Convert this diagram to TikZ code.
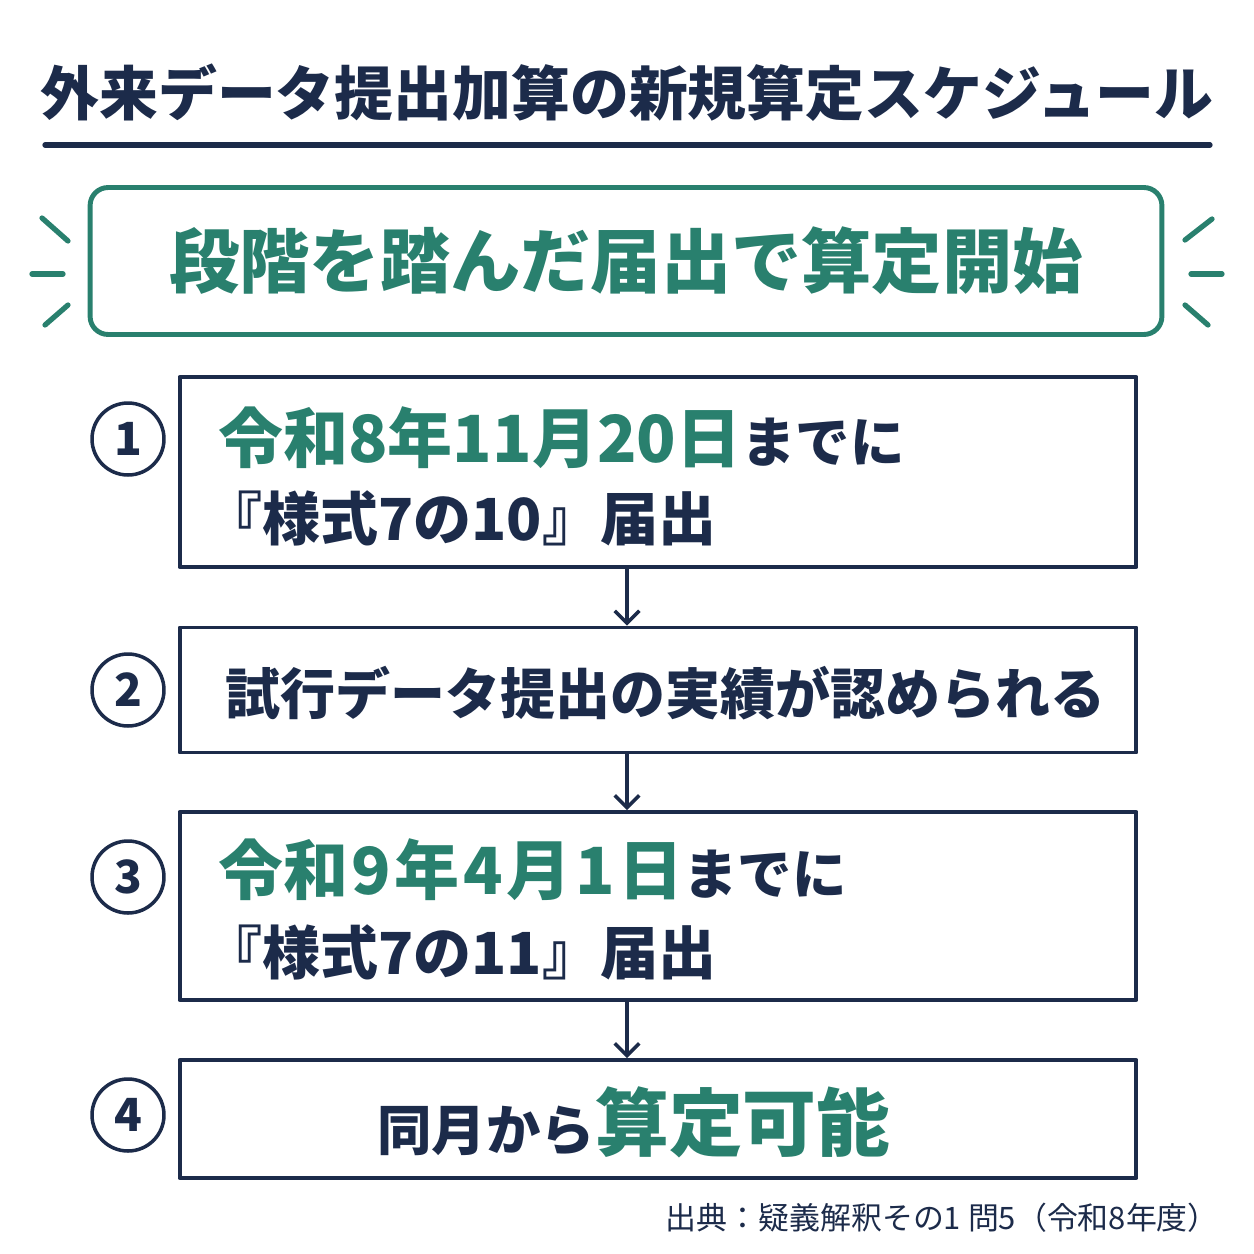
\documentclass[tikz,border=0pt]{standalone}
\usepackage{fontspec}
\usepackage{tikz}
\usetikzlibrary{arrows.meta}
\setmainfont{Noto Sans CJK JP}
\definecolor{navycol}{rgb}{0.11,0.17,0.29}
\definecolor{greencol}{rgb}{0.16,0.50,0.43}
\newcommand{\fs}[1]{\fontsize{#1}{#1}\selectfont}

\begin{document}
\begin{tikzpicture}[line cap=round,line join=round,x=0.02cm,y=-0.02cm,
    stepbox/.style={draw=navycol,line width=2.2pt,minimum width=19.14cm,inner sep=0pt},
    numcirc/.style={draw=navycol,circle,line width=2pt,minimum size=1.44cm,inner sep=0pt,text=navycol,font=\fs{26}\bfseries},
    flowarrow/.style={-{Straight Barb[length=7pt,width=14pt,line width=2pt]},draw=navycol,line width=2pt},
    sparkle/.style={draw=greencol,line width=3pt},
    boxtext/.style={anchor=west,inner sep=0pt,text=navycol,font=\fs{33}\bfseries}]
  \useasboundingbox (0,0) rectangle (1254,1254);
  % title
  \node[text=navycol,font=\fs{33.5}\bfseries] (title) at (627,93) {外来データ提出加算の新規算定スケジュール};
  \draw[navycol,line width=3pt] (45,145) -- (1210,145);
  % heading
  \node[draw=greencol,line width=2.8pt,rounded corners=0.36cm,minimum width=21.44cm,minimum height=2.94cm,
        text=greencol,font=\fs{40}\bfseries] (heading) at (626,261) {段階を踏んだ届出で算定開始};
  \draw[sparkle] (42,218) -- (68,241);
  \draw[sparkle] (32,274) -- (63,274);
  \draw[sparkle] (45,325) -- (68,305);
  \draw[sparkle] (1185,240) -- (1212,219);
  \draw[sparkle] (1191,274) -- (1222,274);
  \draw[sparkle] (1185,305) -- (1208,325);
  % steps
  \node[stepbox,minimum height=3.8cm] (box1) at (658,472) {};
  \node[stepbox,minimum height=2.5cm] (box2) at (658,690) {};
  \node[stepbox,minimum height=3.76cm] (box3) at (658,906) {};
  \node[stepbox,minimum height=2.36cm] (box4) at (658,1119) {};
  \node[numcirc] (num1) at (128,439) {1};
  \node[numcirc] (num2) at (128,690) {2};
  \node[numcirc] (num3) at (128,877) {3};
  \node[numcirc] (num4) at (128,1115) {4};
  \node[boxtext] (date1) at (218,438) {\textcolor{greencol}{\fs{37}令和8年11月20日}\fs{31}までに};
  \node[boxtext] (form1) at (204,518) {『様式7の10』届出};
  \node[boxtext] (trial) at (225,693) {\fs{31.3}\bfseries 試行データ提出の実績が認められる};
  \node[boxtext] (date2) at (218,870) {\textcolor{greencol}{\fs{37}令和\kern2pt 9\kern2pt 年\kern2pt 4\kern2pt 月\kern2pt 1\kern2pt 日}\fs{31}までに};
  \node[boxtext] (form2) at (204,952) {『様式7の11』届出};
  \node[text=navycol,font=\fs{31}\bfseries] (start) at (634,1122) {同月から\textcolor{greencol}{\fs{42}算定可能}};
  % arrows
  \coordinate (arrowx) at (627,0);
  \draw[flowarrow] (box1.south -| arrowx) -- (box2.north -| arrowx);
  \draw[flowarrow] (box2.south -| arrowx) -- (box3.north -| arrowx);
  \draw[flowarrow] (box3.south -| arrowx) -- (box4.north -| arrowx);
  % source
  \node[anchor=east,text=navycol,font=\fs{17.6}] (source) at (1225,1218) {出典：疑義解釈その1 問5（令和8年度）};
\end{tikzpicture}
\end{document}
